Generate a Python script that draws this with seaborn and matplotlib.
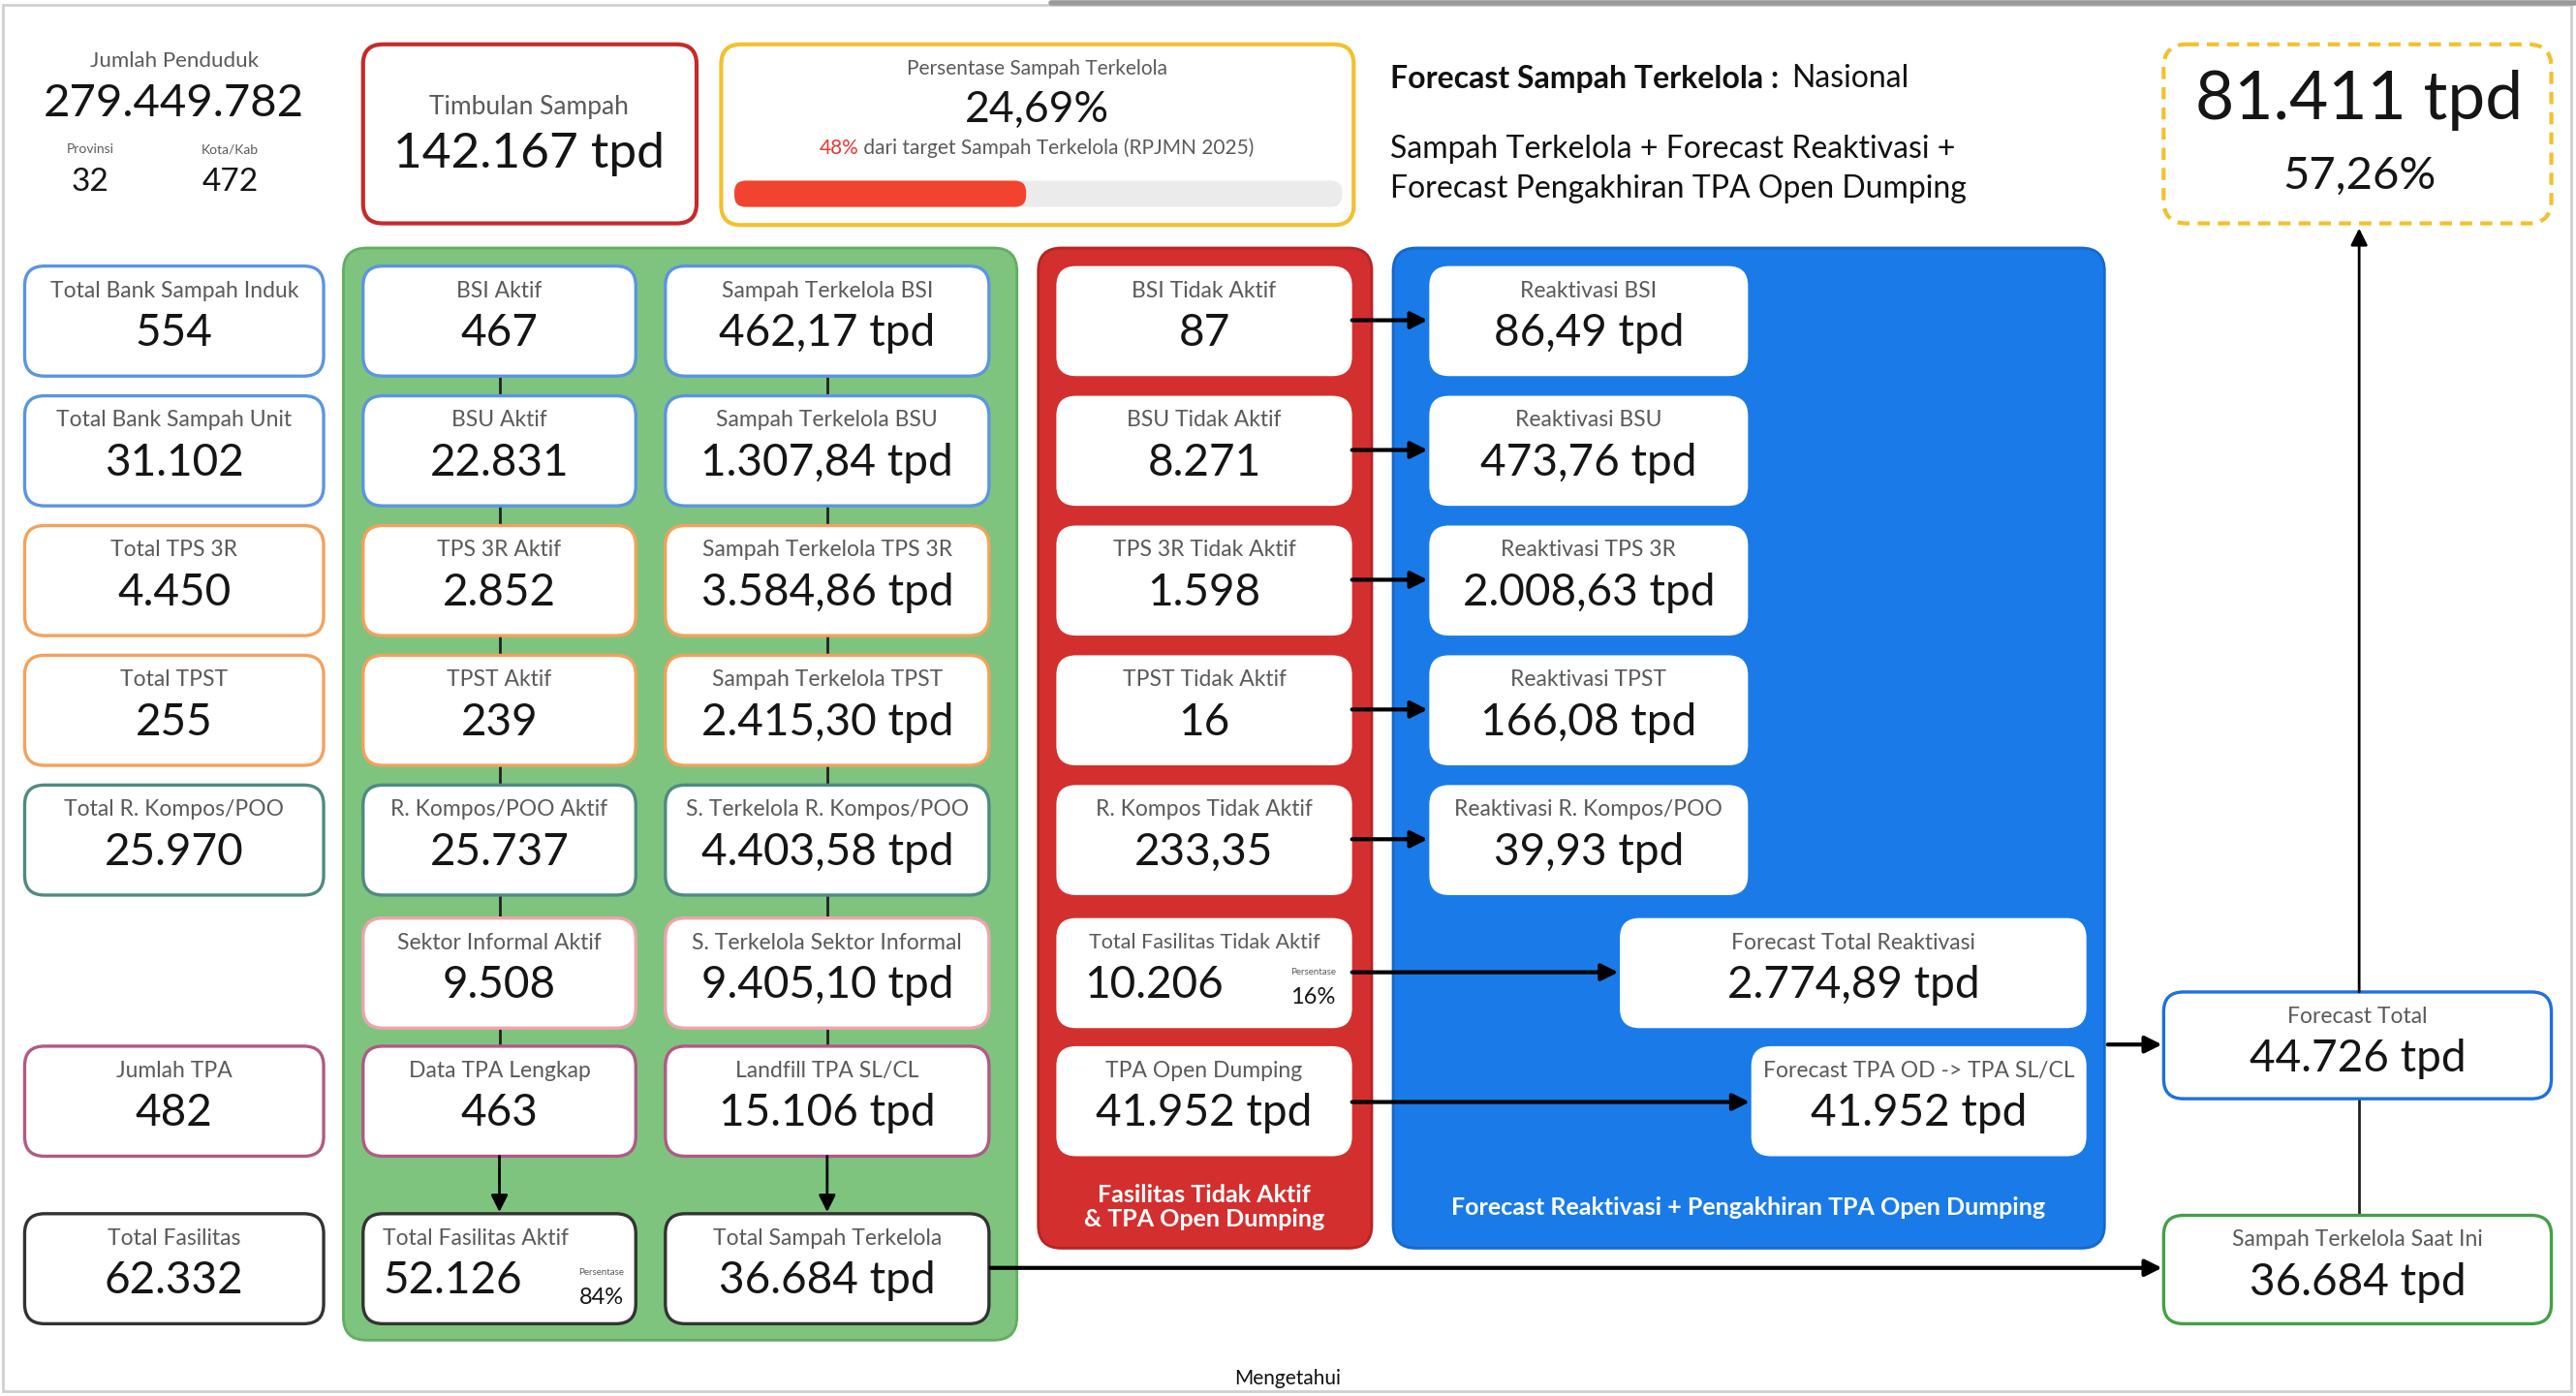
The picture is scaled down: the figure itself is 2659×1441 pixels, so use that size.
import matplotlib
matplotlib.use("Agg")
import matplotlib.pyplot as plt
from matplotlib.patches import FancyBboxPatch, Rectangle
import seaborn as sns

sns.set_theme(style="white")
plt.rcParams['font.family'] = ['Lato', 'DejaVu Sans']

# ---- data ----
penduduk = "279.449.782"
provinsi = "32"
kota_kab = "472"
timbulan = "142.167 tpd"
persen_terkelola = "24,69%"
persen_target = 48
forecast_tpd = "81.411 tpd"
forecast_pct = "57,26%"

left_labels = ["Total Bank Sampah Induk", "Total Bank Sampah Unit", "Total TPS 3R", "Total TPST",
               "Total R. Kompos/POO", None, "Jumlah TPA", "Total Fasilitas"]
left_values = ["554", "31.102", "4.450", "255", "25.970", None, "482", "62.332"]

aktif_labels = ["BSI Aktif", "BSU Aktif", "TPS 3R Aktif", "TPST Aktif", "R. Kompos/POO Aktif",
                "Sektor Informal Aktif", "Data TPA Lengkap", "Total Fasilitas Aktif"]
aktif_values = ["467", "22.831", "2.852", "239", "25.737", "9.508", "463", "52.126"]
aktif_pct = "84%"

kelola_labels = ["Sampah Terkelola BSI", "Sampah Terkelola BSU", "Sampah Terkelola TPS 3R",
                 "Sampah Terkelola TPST", "S. Terkelola R. Kompos/POO", "S. Terkelola Sektor Informal",
                 "Landfill TPA SL/CL", "Total Sampah Terkelola"]
kelola_values = ["462,17 tpd", "1.307,84 tpd", "3.584,86 tpd", "2.415,30 tpd", "4.403,58 tpd",
                 "9.405,10 tpd", "15.106 tpd", "36.684 tpd"]

tidak_labels = ["BSI Tidak Aktif", "BSU Tidak Aktif", "TPS 3R Tidak Aktif", "TPST Tidak Aktif",
                "R. Kompos Tidak Aktif", "Total Fasilitas Tidak Aktif", "TPA Open Dumping"]
tidak_values = ["87", "8.271", "1.598", "16", "233,35", "10.206", "41.952 tpd"]
tidak_pct = "16%"

reakt_labels = ["Reaktivasi BSI", "Reaktivasi BSU", "Reaktivasi TPS 3R", "Reaktivasi TPST",
                "Reaktivasi R. Kompos/POO"]
reakt_values = ["86,49 tpd", "473,76 tpd", "2.008,63 tpd", "166,08 tpd", "39,93 tpd"]

total_reakt = ("Forecast Total Reaktivasi", "2.774,89 tpd")
tpa_od = ("Forecast TPA OD -> TPA SL/CL", "41.952 tpd")
forecast_total = ("Forecast Total", "44.726 tpd")
terkelola_ini = ("Sampah Terkelola Saat Ini", "36.684 tpd")

# ---- layout ----
ROW_TOP = [162, 241, 320, 399, 478, 559, 637, 739]
ROW_H = 67
row_colors = ["#5b95e0", "#5b95e0", "#f4a15c", "#f4a15c", "#4f8a82", "#eea4ac", "#b05a84", "#333333"]
LABEL_C = "#5a5a5a"
VALUE_C = "#151515"
LBL_FS = 16.5
VAL_FS = 33

fig = plt.figure(figsize=(26.59, 14.41), dpi=100)
ax = fig.add_axes([0, 0, 1, 1])
ax.set_xlim(0, 1568)
ax.set_ylim(850, 0)
ax.axis("off")


def rbox(x0, y0, x1, y1, face="white", edge="none", lw=2.4, r=12, ls="-", z=2):
    p = FancyBboxPatch((x0, y0), x1 - x0, y1 - y0,
                       boxstyle=f"round,pad=0,rounding_size={r}",
                       fc=face, ec=edge, lw=lw, ls=ls, zorder=z)
    ax.add_patch(p)
    return p


def card(x0, x1, top, label, value, edge="none", h=ROW_H, lfs=LBL_FS, vfs=VAL_FS):
    rbox(x0, top, x1, top + h, edge=edge, z=3)
    cx = (x0 + x1) / 2
    ax.text(cx, top + 15, label, ha="center", va="center", fontsize=lfs, color=LABEL_C, zorder=4)
    ax.text(cx, top + 41, value, ha="center", va="center", fontsize=vfs, color=VALUE_C, zorder=4)


def arrow(x0, y0, x1, y1, lw=3):
    ax.annotate("", xy=(x1, y1), xytext=(x0, y0),
                arrowprops=dict(arrowstyle="-|>", color="black", lw=lw, mutation_scale=26,
                                shrinkA=0, shrinkB=0), zorder=5)


# outer frame
ax.add_patch(Rectangle((2, 3), 1563, 844, fc="none", ec="#cfcfcf", lw=2, zorder=1))
ax.plot([640, 1568], [2, 2], color="#9a9a9a", lw=4, zorder=1)

# ---- header ----
ax.text(106, 37, "Jumlah Penduduk", ha="center", va="center", fontsize=16, color=LABEL_C)
ax.text(106, 63, penduduk, ha="center", va="center", fontsize=34, color=VALUE_C)
ax.text(55, 91, "Provinsi", ha="center", va="center", fontsize=10, color=LABEL_C)
ax.text(55, 111, provinsi, ha="center", va="center", fontsize=24, color=VALUE_C)
ax.text(140, 91, "Kota/Kab", ha="center", va="center", fontsize=10, color=LABEL_C)
ax.text(140, 111, kota_kab, ha="center", va="center", fontsize=24, color=VALUE_C)

rbox(221, 27, 424, 136, edge="#c62a2a", lw=3, z=2)
ax.text(322, 65, "Timbulan Sampah", ha="center", va="center", fontsize=19, color=LABEL_C)
ax.text(322, 94, timbulan, ha="center", va="center", fontsize=37, color=VALUE_C)

rbox(439, 27, 824, 137, edge="#f2c12e", lw=3, z=2)
ax.text(631, 42, "Persentase Sampah Terkelola", ha="center", va="center", fontsize=15, color=LABEL_C)
ax.text(631, 67, persen_terkelola, ha="center", va="center", fontsize=32, color=VALUE_C)

fig.canvas.draw()
renderer = fig.canvas.get_renderer()


def width_of(t):
    bb = t.get_window_extent(renderer=renderer)
    inv = ax.transData.inverted()
    (xa, _), (xb, _) = inv.transform([(bb.x0, bb.y0), (bb.x1, bb.y1)])
    return xb - xa


t1 = ax.text(0, 90, f"{persen_target}%", ha="left", va="center", fontsize=15, color="#e53935")
t2 = ax.text(0, 90, " dari target Sampah Terkelola (RPJMN 2025)", ha="left", va="center",
             fontsize=15, color=LABEL_C)
w1, w2 = width_of(t1), width_of(t2)
start = 631 - (w1 + w2) / 2
t1.set_x(start)
t2.set_x(start + w1)

bar_x0, bar_x1 = 447, 817
rbox(bar_x0, 110, bar_x1, 126, face="#ebebeb", r=7, z=2)
rbox(bar_x0, 110, bar_x0 + (bar_x1 - bar_x0) * persen_target / 100, 126, face="#f2432f", r=7, z=3)

tb = ax.text(846, 48, "Forecast Sampah Terkelola :", ha="left", va="center", fontsize=23,
             color="#111111", fontweight="bold")
fig.canvas.draw()
ax.text(846 + width_of(tb) + 8, 48, "Nasional", ha="left", va="center", fontsize=23, color="#111111")
ax.text(846, 91, "Sampah Terkelola + Forecast Reaktivasi +", ha="left", va="center", fontsize=23,
        color="#111111")
ax.text(846, 115, "Forecast Pengakhiran TPA Open Dumping", ha="left", va="center", fontsize=23,
        color="#111111")

rbox(1317, 27, 1553, 136, edge="#f2c12e", lw=3, ls=(0, (3, 2)), r=14, z=2)
ax.text(1436, 61, forecast_tpd, ha="center", va="center", fontsize=50, color=VALUE_C)
ax.text(1436, 107, forecast_pct, ha="center", va="center", fontsize=34, color=VALUE_C)

# ---- panels ----
rbox(209, 151, 619, 816, face="#7ec47f", edge="#63ad63", lw=2, r=14, z=1)
rbox(632, 151, 835, 760, face="#d32f2f", edge="#b72424", lw=2, r=14, z=1)
rbox(848, 151, 1281, 760, face="#1a7be8", edge="#1568cc", lw=2, r=14, z=1)
ax.text(733, 735, "Fasilitas Tidak Aktif\n& TPA Open Dumping", ha="center", va="center",
        fontsize=18, color="white", fontweight="bold", linespacing=1.1)
ax.text(1064, 735, "Forecast Reaktivasi + Pengakhiran TPA Open Dumping", ha="center", va="center",
        fontsize=18, color="white", fontweight="bold")

# ---- left column ----
for i, (lab, val) in enumerate(zip(left_labels, left_values)):
    if lab is None:
        continue
    card(15, 197, ROW_TOP[i], lab, val, edge=row_colors[i])

# ---- green columns ----
for col_x, col_labels, col_values in [((221, 387), aktif_labels, aktif_values),
                                      ((405, 602), kelola_labels, kelola_values)]:
    cx = (col_x[0] + col_x[1]) / 2
    for i in range(len(ROW_TOP) - 1):
        y0 = ROW_TOP[i] + ROW_H
        y1 = ROW_TOP[i + 1]
        if i < len(ROW_TOP) - 2:
            ax.plot([cx, cx], [y0, y1], color="#222222", lw=2, zorder=2)
        else:
            arrow(cx, y0, cx, y1 - 1, lw=2)
    for i, (lab, val) in enumerate(zip(col_labels, col_values)):
        if i == len(col_labels) - 1 and col_labels is aktif_labels:
            top = ROW_TOP[i]
            rbox(col_x[0], top, col_x[1], top + ROW_H, edge=row_colors[i], z=3)
            ax.text(233, top + 15, lab, ha="left", va="center", fontsize=LBL_FS, color=LABEL_C, zorder=4)
            ax.text(233, top + 41, val, ha="left", va="center", fontsize=VAL_FS, color=VALUE_C, zorder=4)
            ax.text(380, top + 36, "Persentase", ha="right", va="center", fontsize=7, color=LABEL_C, zorder=4)
            ax.text(380, top + 51, aktif_pct, ha="right", va="center", fontsize=17, color=VALUE_C, zorder=4)
        else:
            card(col_x[0], col_x[1], ROW_TOP[i], lab, val, edge=row_colors[i])

# ---- red column ----
for i, (lab, val) in enumerate(zip(tidak_labels, tidak_values)):
    top = ROW_TOP[i]
    if i == 5:
        rbox(643, top, 823, top + ROW_H, z=3)
        ax.text(733, top + 15, lab, ha="center", va="center", fontsize=LBL_FS - 1, color=LABEL_C, zorder=4)
        ax.text(660, top + 41, val, ha="left", va="center", fontsize=VAL_FS, color=VALUE_C, zorder=4)
        ax.text(813, top + 33, "Persentase", ha="right", va="center", fontsize=7, color=LABEL_C, zorder=4)
        ax.text(813, top + 48, tidak_pct, ha="right", va="center", fontsize=17, color=VALUE_C, zorder=4)
    else:
        card(643, 823, top, lab, val)

# ---- blue column ----
for i, (lab, val) in enumerate(zip(reakt_labels, reakt_values)):
    card(870, 1064, ROW_TOP[i], lab, val)
    arrow(823, ROW_TOP[i] + 33, 869, ROW_TOP[i] + 33)
card(986, 1270, ROW_TOP[5], total_reakt[0], total_reakt[1])
arrow(823, ROW_TOP[5] + 33, 985, ROW_TOP[5] + 33)
card(1066, 1270, ROW_TOP[6], tpa_od[0], tpa_od[1])
arrow(823, ROW_TOP[6] + 34, 1065, ROW_TOP[6] + 34)

# ---- right column ----
ax.plot([1436, 1436], [740, 669], color="#222222", lw=2, zorder=2)
arrow(1436, 604, 1436, 139, lw=2)
card(1317, 1553, 604, forecast_total[0], forecast_total[1], edge="#1e6fe0", h=65)
card(1317, 1553, 740, terkelola_ini[0], terkelola_ini[1], edge="#43a047", h=66)
arrow(1283, 636, 1316, 636)
arrow(603, 772, 1316, 772)

# footer
ax.text(784, 845, "Mengetahui", ha="center", va="bottom", fontsize=15, color="#111111")

fig.savefig("out.png", dpi=100)
